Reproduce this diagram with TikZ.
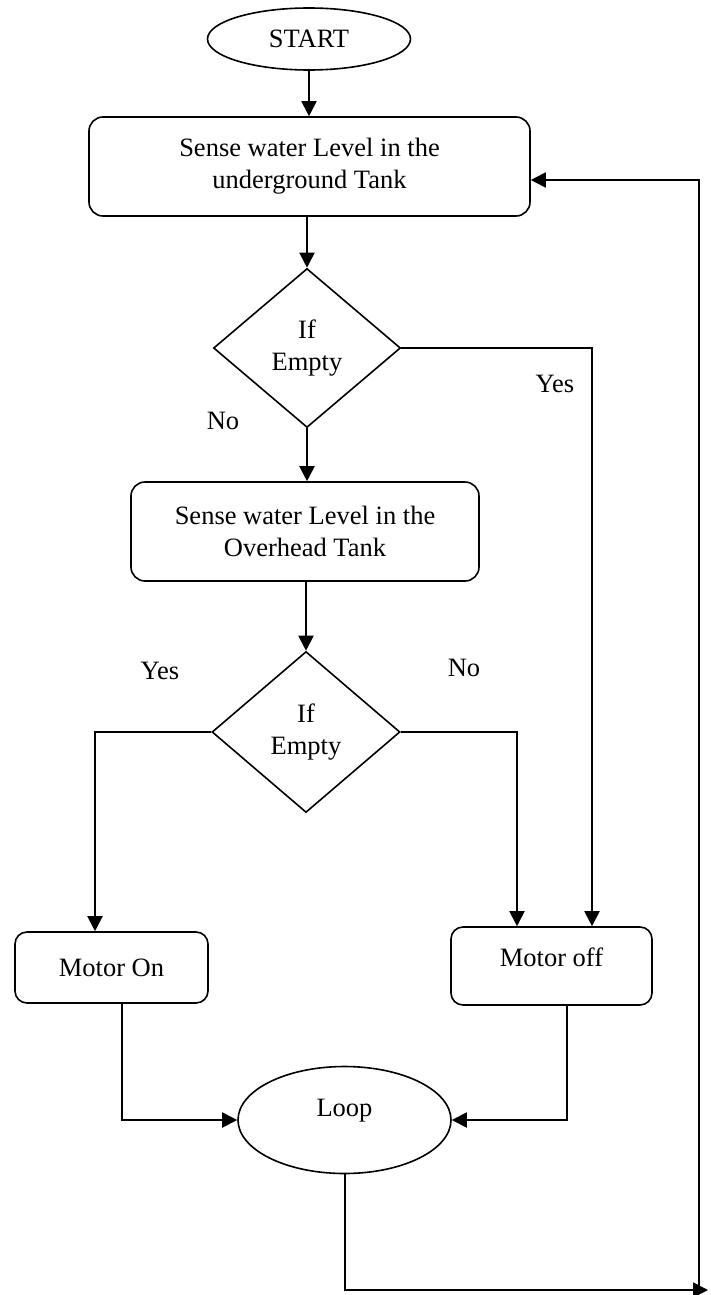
\documentclass[tikz,border=0pt]{standalone}
\usepackage{fontspec}
\setmainfont{Liberation Serif}
\usetikzlibrary{shapes.geometric,arrows.meta}
\tikzset{
  txt/.style={font=\fontsize{26.5}{32}\selectfont, inner sep=0pt, align=center},
  procbox/.style={txt, draw, line width=1.6pt, rounded corners=14pt, rectangle},
  oval/.style={txt, draw, line width=1.6pt, ellipse},
  decision/.style={txt, draw, line width=1.6pt, diamond},
  conn/.style={line width=2pt},
  arr/.style={conn, -{Triangle[length=15pt,width=15pt]}},
  lbl/.style={txt, text height=18.5pt, text depth=0pt}
}
\begin{document}
\begin{tikzpicture}[x=1pt,y=-1pt]
\useasboundingbox (0,0) rectangle (711,1295);
% shapes
\node[oval, minimum width=203pt, minimum height=62pt] (start) at (309,39) {START};
\node[procbox, minimum width=441pt, minimum height=99pt] (box1) at (309.5,166.5) {Sense water Level in the\\underground Tank};
\node[decision, minimum width=187pt, minimum height=159pt] (d1) at (307,348) {If\\Empty};
\node[procbox, minimum width=348pt, minimum height=99pt] (box2) at (305,531.5) {Sense water Level in the\\Overhead Tank};
\node[decision, minimum width=188pt, minimum height=161pt] (d2) at (306,732) {If\\Empty};
\node[procbox, rounded corners=12pt, minimum width=193pt, minimum height=71pt] (mon) at (111.5,967.5) {Motor On};
\node[procbox, rounded corners=12pt, minimum width=201pt, minimum height=78pt, text height=18.5pt, text depth=18.5pt] (moff) at (551.5,966) {Motor off};
\node[oval, minimum width=213pt, minimum height=107pt, text height=18.5pt, text depth=26.5pt] (loop) at (344.5,1120) {Loop};
% labels
\node[lbl] (yes1) at (555,383) {Yes};
\node[lbl] (no1) at (223,420) {No};
\node[lbl] (yes2) at (160,670) {Yes};
\node[lbl] (no2) at (464,667) {No};
% helper coordinates
\coordinate (c1) at (592,348);
\coordinate (c2) at (95,733);
\coordinate (c3) at (517,730);
\coordinate (c4) at (122,1119);
\coordinate (c5) at (567,1119);
\coordinate (c6) at (708,1290);
\coordinate (c8) at (699,1288);
\coordinate (c7) at (699,180);
% connectors
\draw[arr] (start.south) -- (start.south |- box1.north);
\draw[arr] (box1.south -| d1.north) -- (d1.north);
\draw[arr] (d1.east) -| (c1 |- moff.north);
\draw[arr] (d1.south) -- (d1.south |- box2.north);
\draw[arr] (box2.south -| d2.north) -- (d2.north);
\draw[arr] (d2.west) -| (c2 |- mon.north);
\draw[arr] (d2.east) -| (c3 |- moff.north);
\draw[arr] (c4 |- mon.south) |- (loop.west);
\draw[arr] (c5 |- moff.south) |- (loop.east);
\draw[arr] (loop.south) |- (c6);
\draw[arr] (c8) -- (c7) -- (c7 -| box1.east);
\end{tikzpicture}
\end{document}
